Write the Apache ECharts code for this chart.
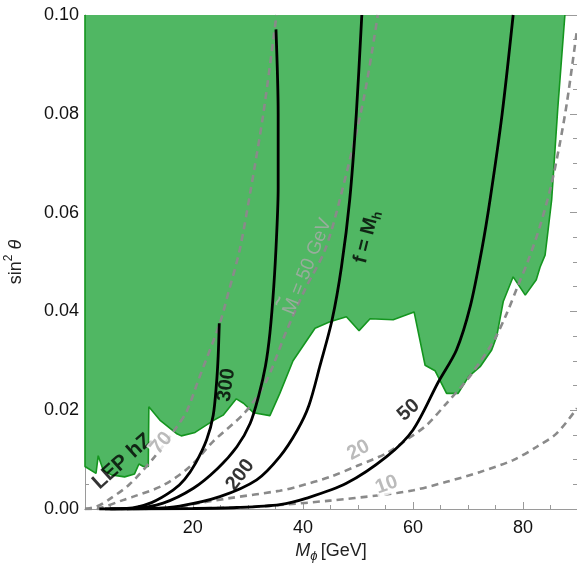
<!DOCTYPE html>
<html>
<head>
<meta charset="utf-8">
<script src="https://cdn.jsdelivr.net/npm/echarts@6.0.0/dist/echarts.min.js"></script>
<style>
html, body { margin: 0; padding: 0; background: #fff; }
#chart { width: 577px; height: 571px; }
</style>
</head>
<body>
<div id="chart"></div>
<script>
// axes
var massMin = 0.4;
var massMax = 89.8;
var massLabels = [20, 40, 60, 80];
var massMinor = [5, 10, 15, 25, 30, 35, 45, 50, 55, 65, 70, 75, 85];

// LEP hZ excluded region, lower edge
var lepMass = [0.4, 0.4, 2.4, 2.8, 3.7, 5.2, 7.6, 9.4, 10.2, 11.0, 11.9, 12.0, 14.0, 17.0, 17.9, 20.4, 23.7, 25.5, 27.9, 29.2,
  31.0, 34.0, 35.8, 38.2, 42.2, 44.9, 47.9, 50.2, 52.2, 56.4, 60.2, 62.2, 64.0, 66.1, 68.2, 70.1, 72.2, 74.3, 75.2, 76.4,
  78.2, 80.4, 82.4, 83.1, 84.0, 84.4, 85.2, 86.3, 87.6];
var lepSin = [0.1, 0.0086, 0.0072, 0.0108, 0.0079, 0.0069, 0.0065, 0.0071, 0.0091, 0.0086, 0.0086, 0.0207, 0.0180, 0.0153, 0.0148, 0.0155, 0.0179, 0.0190, 0.0223, 0.0214,
  0.0195, 0.0189, 0.0234, 0.0300, 0.0366, 0.0379, 0.0389, 0.0361, 0.0385, 0.0383, 0.0399, 0.0291, 0.0280, 0.0234, 0.0234, 0.0268, 0.0288, 0.0322, 0.0349, 0.0420,
  0.0470, 0.0433, 0.0464, 0.0490, 0.0514, 0.0551, 0.0626, 0.0810, 0.1];

// solid curves, f = 300, 200, M_h, 50
var f300Mass = [3, 8.0, 12.5, 16.4, 18.5, 20.5, 22.5, 23.7, 24.3, 24.6, 24.8];
var f300Sin = [0, 0.0001, 0.0013, 0.0038, 0.006, 0.0093, 0.014, 0.019, 0.0255, 0.031, 0.0376];
var f200Mass = [4, 9, 14.6, 20.1, 24.5, 28.0, 30.4, 32.0, 33.2, 34.0, 34.7, 35.2, 35.5, 35.5, 35.1];
var f200Sin = [0, 0.0001, 0.0012, 0.0042, 0.0082, 0.0126, 0.0173, 0.0231, 0.029, 0.0356, 0.045, 0.055, 0.065, 0.08, 0.0971];
var fHiggsMass = [5, 12, 17.6, 24.9, 31.6, 35.8, 39.0, 41.1, 43.1, 45.3, 47.0, 48.5, 49.7, 50.7];
var fHiggsSin = [0, 0.0001, 0.0006, 0.0025, 0.0059, 0.0106, 0.016, 0.021, 0.029, 0.0383, 0.049, 0.0626, 0.08, 0.1];
var f50Mass = [8, 20, 28, 35.8, 40.7, 47.9, 55.2, 60.0, 64.6, 67.9, 70.4, 72.5, 74.0, 76.2, 78.2];
var f50Sin = [0, 0.0001, 0.0003, 0.0009, 0.0022, 0.0052, 0.0106, 0.016, 0.0257, 0.0322, 0.041, 0.0525, 0.0626, 0.08, 0.1];

// dashed curves, M~ = 70, 50, 20, 10
var m70Mass = [0.4, 2.5, 4.6, 8.5, 13.0, 17.0, 18.9, 21.0, 24.9, 26.5, 28.5, 30.4, 32.8, 35.2];
var m70Sin = [0, 0.0005, 0.0018, 0.005, 0.0105, 0.0165, 0.0198, 0.0261, 0.0376, 0.044, 0.0524, 0.0639, 0.08, 0.1];
var m50Mass = [0.4, 3.1, 7.3, 9.2, 14.6, 19.5, 23.7, 29.5, 33.3, 37.0, 40.4, 44.0, 46.7, 51.0, 53.6];
var m50Sin = [0, 0.0002, 0.0018, 0.0025, 0.0048, 0.0086, 0.0137, 0.0196, 0.0258, 0.036, 0.0445, 0.0524, 0.0626, 0.0828, 0.1];
var m20Mass = [0.4, 14.6, 19.5, 26.7, 35.8, 38.9, 44.9, 50.0, 55.2, 58.8, 62.5, 66.1, 69.8, 72.2, 74.9, 77.0, 79.0, 81.0, 83.0, 85.0, 86.6, 88.0, 89.8];
var m20Sin = [0, 0.0001, 0.0009, 0.0022, 0.0037, 0.0045, 0.0065, 0.0088, 0.0113, 0.014, 0.017, 0.0214, 0.0261, 0.0298, 0.0345, 0.0395, 0.045, 0.0505, 0.057, 0.065, 0.0735, 0.0825, 0.097];
var m10Mass = [0.4, 20, 30, 35.8, 44.9, 54.0, 60.1, 66.1, 72.2, 78.2, 82.5, 86.1, 89.8];
var m10Sin = [0, 0.0001, 0.0004, 0.0008, 0.0017, 0.0028, 0.0038, 0.0055, 0.0075, 0.0099, 0.0126, 0.0153, 0.0204];

// in-plot labels
var noteText = ['LEP hZ', '70', '300', '200', 'M\u0303 = 50 GeV', 'f = Mh', '50', '20', '10'];
var noteMass = [7.2, 14.3, 26.1, 28.6, 40.4, 51.6, 59.2, 50.1, 55.2];
var noteSin = [0.0096, 0.0133, 0.0251, 0.0069, 0.0498, 0.0551, 0.0200, 0.0119, 0.0049];

var font = '"Liberation Sans", Arial, sans-serif';
var lightGray = '#aaaaaa';

function pairs(xs, ys) {
  return xs.map(function (x, i) { return [x, ys[i]]; });
}

function solid(xs, ys) {
  return {
    type: 'line', data: pairs(xs, ys), symbol: 'none', smooth: 0.3, z: 4,
    lineStyle: { color: '#000', width: 2.8 }
  };
}

function dashed(xs, ys) {
  return {
    type: 'line', data: pairs(xs, ys), symbol: 'none', smooth: 0.3, z: 3,
    lineStyle: { color: '#8a8a8a', width: 2.6, type: [7, 5] }
  };
}

var noteLook = [
  { rotate: 42, color: '#000', fontWeight: 'bold', fontSize: 21 },
  { rotate: 50, color: lightGray, fontWeight: 'bold', fontSize: 20, backgroundColor: '#fff', padding: [0, 1] },
  { rotate: 82, color: '#000', fontWeight: 'bold', fontSize: 20 },
  { rotate: 53, color: '#000', fontWeight: 'bold', fontSize: 20 },
  // tilde drawn as its own line above the M
  { rotate: 68, color: lightGray,
    formatter: '{t|~}\n{n|M = 50 GeV}',
    rich: {
      t: { fontSize: 18, fontWeight: 'bold', fontFamily: font, color: lightGray, width: 104, align: 'left', lineHeight: 7, padding: [0, 0, 0, 3] },
      n: { fontSize: 19, fontFamily: font, color: lightGray, width: 104, align: 'left', lineHeight: 20 }
    } },
  { rotate: 76, color: '#000', fontWeight: 'bold', fontSize: 20,
    formatter: '{a|f = M}{b|h}',
    rich: { a: { fontSize: 20, fontWeight: 'bold', fontFamily: font, color: '#000', lineHeight: 24 },
      b: { fontSize: 13, fontWeight: 'bold', fontFamily: font, color: '#000', verticalAlign: 'bottom', lineHeight: 15 } } },
  { rotate: 42, color: '#000', fontWeight: 'bold', fontSize: 20 },
  { rotate: 28, color: lightGray, fontWeight: 'bold', fontSize: 20, backgroundColor: '#fff', padding: [0, 1] },
  { rotate: 20, color: lightGray, fontWeight: 'bold', fontSize: 20, backgroundColor: '#fff', padding: [0, 1] }
];

var notes = noteText.map(function (t, i) {
  var lab = Object.assign({ show: true, position: 'inside', fontFamily: font, formatter: '{b}' }, noteLook[i]);
  return { name: t, value: [noteMass[i], noteSin[i]], label: lab };
});

var frame = '#9a9a9a';

function massAxis(pos, values, len, withLabels) {
  return {
    type: 'value', position: pos, min: massMin, max: massMax,
    axisLine: { show: true, onZero: false, lineStyle: { color: frame, width: 1 } },
    axisTick: { show: true, inside: true, length: len, customValues: values, lineStyle: { color: frame } },
    axisLabel: withLabels ? { show: true, customValues: massLabels, fontSize: 18, fontFamily: font, color: '#111', margin: 10 } : { show: false },
    splitLine: { show: false }
  };
}

function sinAxis(pos, withLabels) {
  return {
    type: 'value', position: pos, min: 0, max: 0.1, interval: 0.02,
    axisLine: { show: true, onZero: false, lineStyle: { color: frame, width: 1 } },
    axisTick: { show: true, inside: true, length: 7, lineStyle: { color: frame } },
    minorTick: { show: true, splitNumber: 4, length: 4, lineStyle: { color: frame } },
    axisLabel: withLabels ? {
      show: true, fontSize: 18, fontFamily: font, color: '#111', margin: 6,
      formatter: function (v) { return v.toFixed(2); }
    } : { show: false },
    splitLine: { show: false }
  };
}

var xBottom = massAxis('bottom', massLabels, 7, true);
xBottom.name = '{i|M}{s|\u03d5} {n|[GeV]}';
xBottom.nameLocation = 'middle';
xBottom.nameGap = 30;
xBottom.nameTextStyle = {
  fontFamily: font, color: '#222',
  rich: {
    i: { fontSize: 18, fontStyle: 'italic', fontFamily: font, color: '#222', lineHeight: 24 },
    s: { fontSize: 13, fontStyle: 'italic', fontFamily: font, color: '#222', verticalAlign: 'bottom', lineHeight: 14 },
    n: { fontSize: 18, fontFamily: font, color: '#222', lineHeight: 24 }
  }
};

var yLeft = sinAxis('left', true);
yLeft.name = '{n|sin}{p|2}{n| }{i|\u03b8}';
yLeft.nameLocation = 'middle';
yLeft.nameRotate = 90;
yLeft.nameGap = 56;
yLeft.nameTextStyle = {
  fontFamily: font, color: '#222',
  rich: {
    n: { fontSize: 18, fontFamily: font, color: '#222', lineHeight: 26 },
    p: { fontSize: 12, fontFamily: font, color: '#222', verticalAlign: 'top', lineHeight: 15 },
    i: { fontSize: 18, fontStyle: 'italic', fontFamily: font, color: '#222', lineHeight: 26 }
  }
};

var myChart = echarts.init(document.getElementById('chart'), null, { renderer: 'canvas' });

var option = {
  animation: false,
  backgroundColor: '#fff',
  grid: { left: 85, right: 0, top: 15, bottom: 62, outerBoundsMode: 'none' },
  xAxis: [
    xBottom,
    massAxis('bottom', massMinor, 4, false),
    massAxis('top', massLabels, 7, false),
    massAxis('top', massMinor, 4, false)
  ],
  yAxis: [yLeft, sinAxis('right', false)],
  series: [
    {
      type: 'line', data: pairs(lepMass, lepSin), symbol: 'none', z: 1,
      lineStyle: { color: '#14951f', width: 1.6 },
      areaStyle: { color: '#50b763', opacity: 1, origin: 'end' }
    },
    dashed(m70Mass, m70Sin),
    dashed(m50Mass, m50Sin),
    dashed(m20Mass, m20Sin),
    dashed(m10Mass, m10Sin),
    solid(f300Mass, f300Sin),
    solid(f200Mass, f200Sin),
    solid(fHiggsMass, fHiggsSin),
    solid(f50Mass, f50Sin),
    {
      type: 'scatter', data: notes, symbolSize: 1, z: 6,
      itemStyle: { color: 'rgba(0,0,0,0)' }
    }
  ]
};

myChart.setOption(option);
</script>
</body>
</html>
